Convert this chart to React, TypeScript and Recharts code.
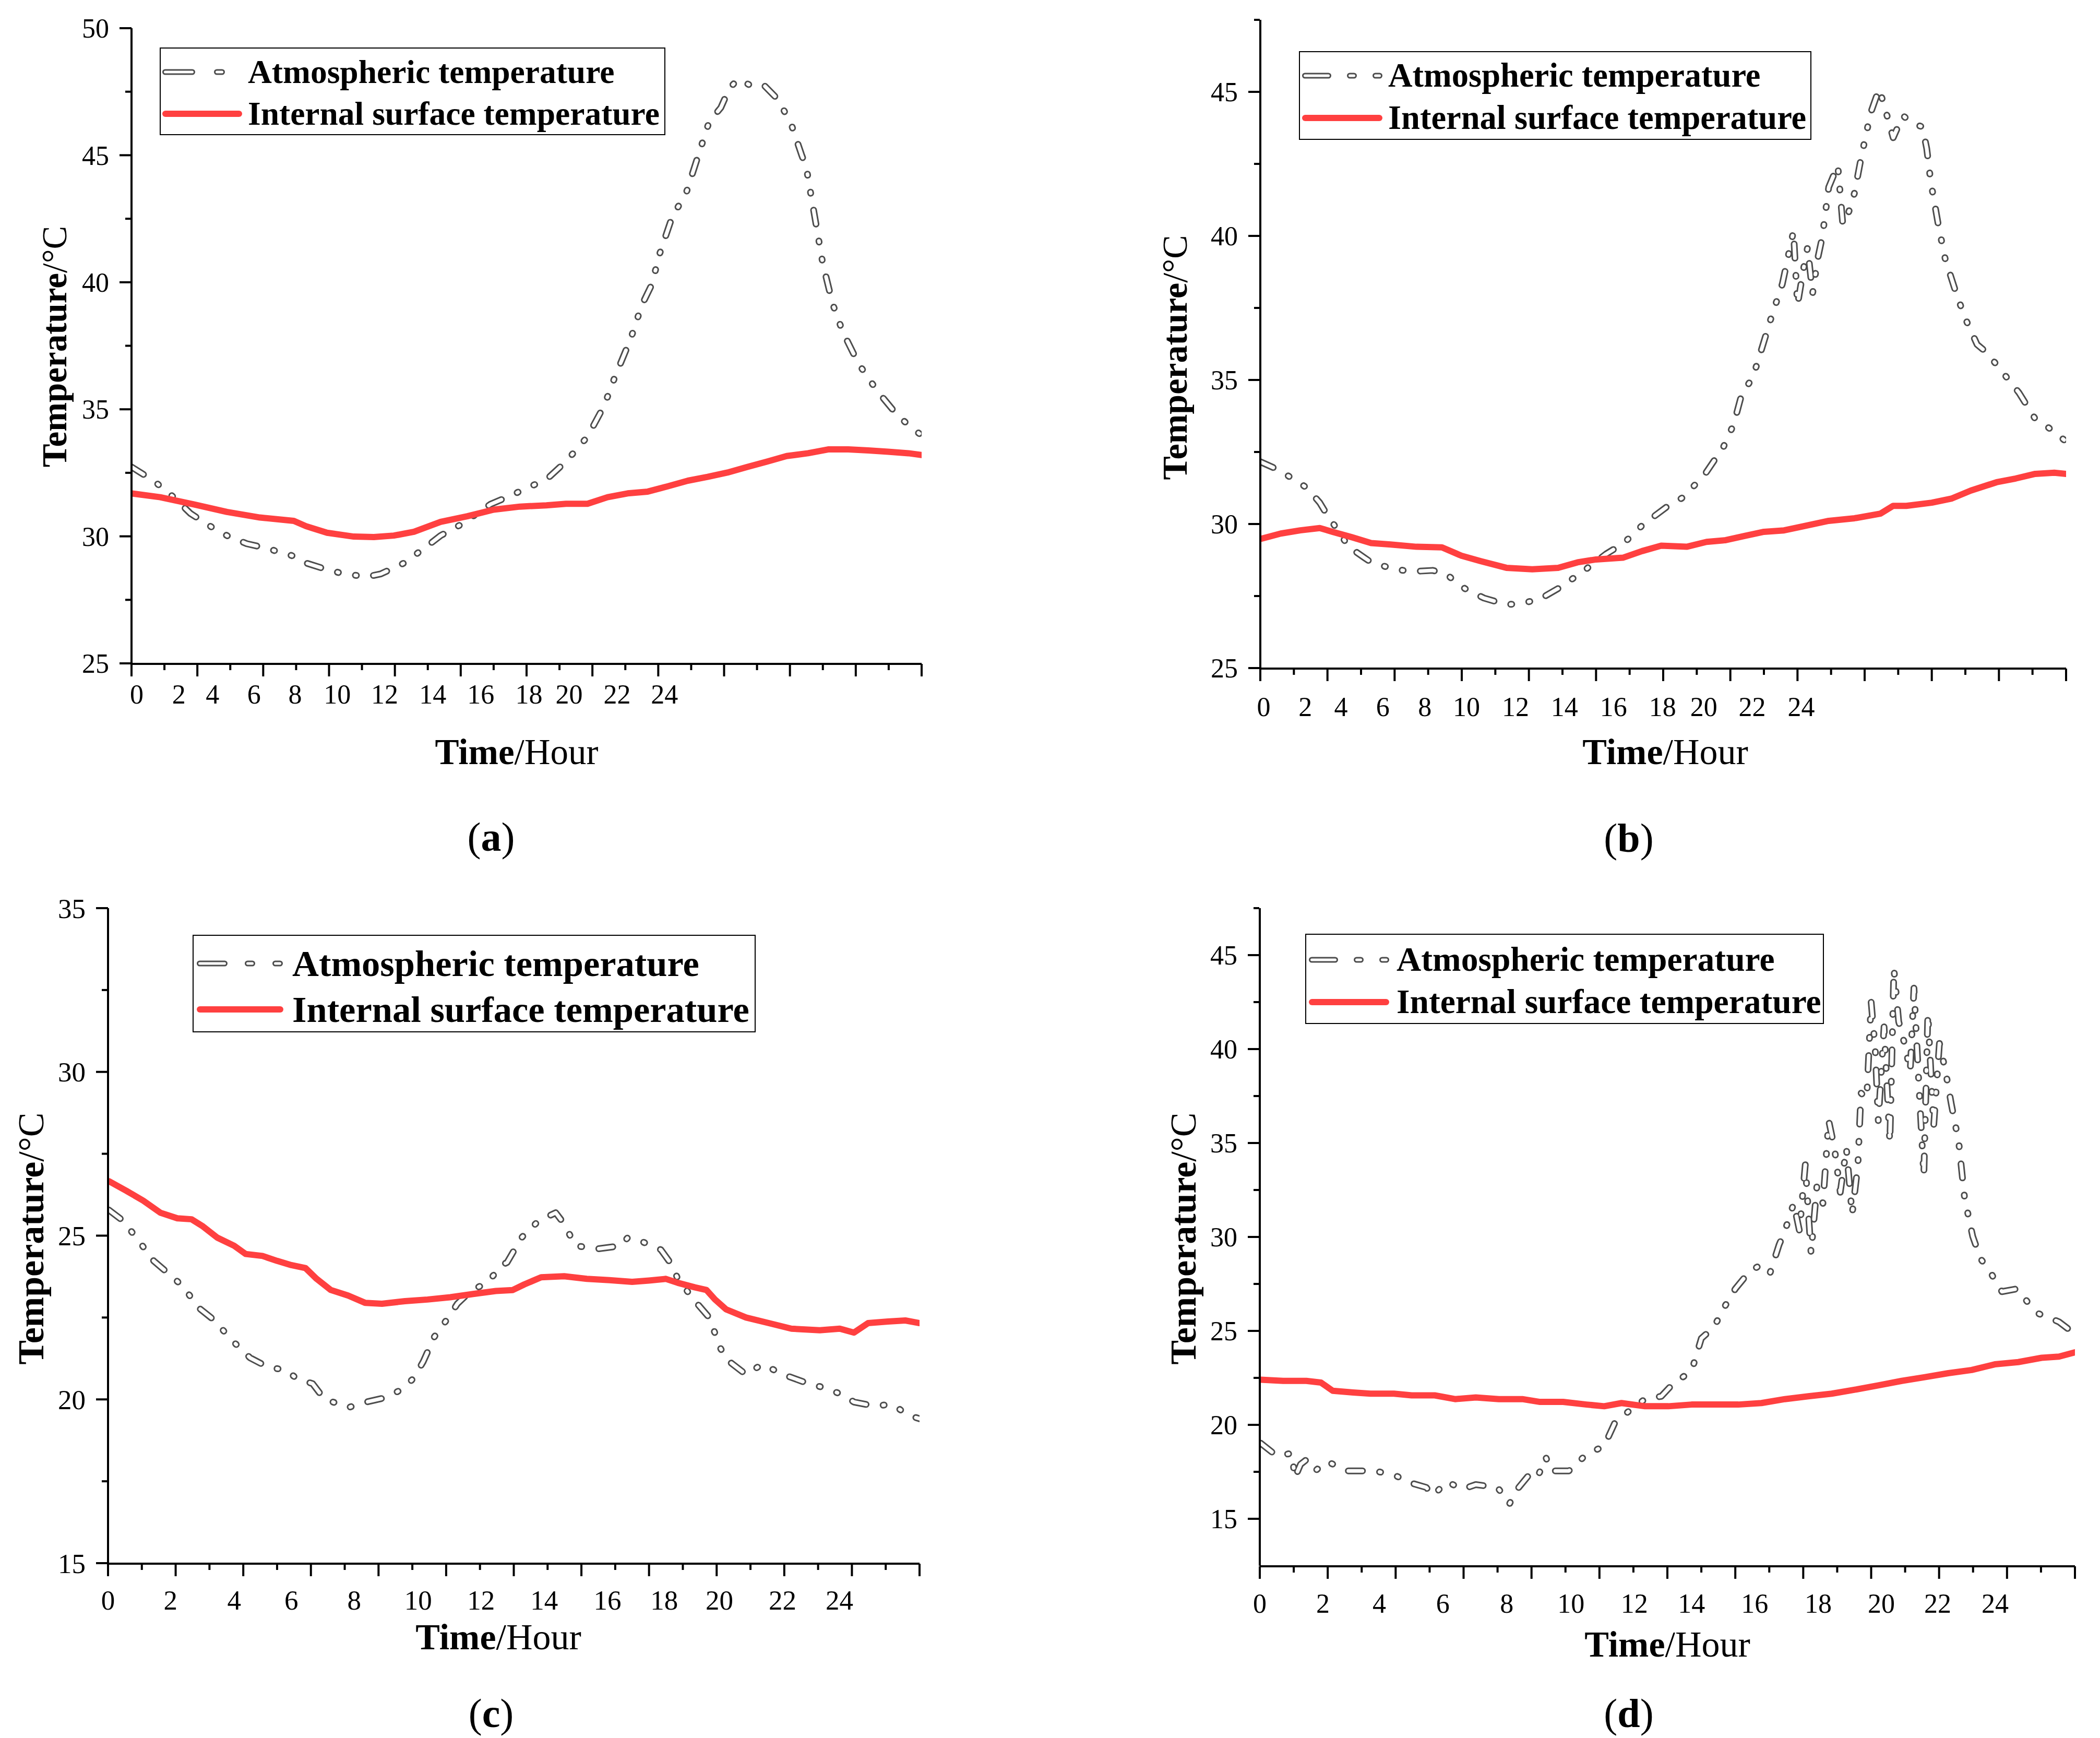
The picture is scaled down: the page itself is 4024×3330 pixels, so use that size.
import React from 'react';
import { LineChart, Line, XAxis, YAxis, Legend } from 'recharts';

const FONT = '"Liberation Serif", "Times New Roman", serif';
const RED = '#FF4040';
const GRAY = '#4d4d4d';

// ---------- (a) ----------
const A_ATM_T = [0, 0.67, 1.28, 1.79, 2.5, 2.9, 3.5, 4.1, 4.9, 5.3, 5.84, 6.45, 7.16, 7.57, 8.28, 8.89, 9.39, 10.0, 10.9, 11.6, 12.0, 12.6, 13.2, 13.85, 14.36, 14.67, 15.17, 15.5, 15.8, 16.05, 16.43, 16.84, 17.2, 17.55, 17.9, 18.16, 18.42, 18.93, 19.23, 19.64, 20.04, 20.35, 20.5, 20.65, 20.8, 21.0, 21.3, 21.6, 22.07, 22.4, 22.8, 23.3, 23.95];
const A_ATM_V = [32.73, 32.19, 31.54, 30.9, 30.31, 30.03, 29.71, 29.53, 29.23, 28.95, 28.73, 28.52, 28.41, 28.52, 28.95, 29.53, 30.03, 30.46, 31.26, 31.65, 31.9, 32.23, 32.95, 33.92, 35.15, 36.23, 37.8, 39.1, 39.9, 41.15, 42.6, 43.48, 44.93, 46.33, 46.87, 47.63, 47.99, 47.67, 47.73, 47.19, 46.22, 45.03, 44.5, 43.35, 42.23, 40.72, 39.14, 38.06, 36.83, 36.18, 35.49, 34.71, 34.02];
const A_INT_T = [0, 0.87, 1.89, 2.9, 3.9, 4.93, 5.3, 5.94, 6.75, 7.36, 7.97, 8.58, 9.39, 10.2, 11.0, 11.8, 12.6, 13.2, 13.85, 14.46, 15.07, 15.68, 16.29, 16.9, 17.5, 18.1, 18.7, 19.3, 19.9, 20.55, 21.16, 21.77, 22.38, 22.98, 23.6, 24];
const A_INT_V = [31.69, 31.54, 31.26, 30.96, 30.74, 30.61, 30.4, 30.14, 29.99, 29.97, 30.03, 30.18, 30.57, 30.79, 31.05, 31.17, 31.22, 31.28, 31.28, 31.54, 31.69, 31.76, 31.97, 32.19, 32.34, 32.51, 32.73, 32.94, 33.16, 33.27, 33.42, 33.42, 33.38, 33.33, 33.27, 33.2];

// ---------- (b) ----------
const B_ATM_T = [0, 0.52, 1.0, 1.38, 1.77, 2.0, 2.34, 2.63, 3.1, 3.3, 3.97, 4.49, 5.13, 5.5, 6.09, 6.66, 7.33, 7.72, 8.29, 8.87, 9.54, 10.3, 10.83, 11.4, 12.1, 12.6, 13.25, 13.8, 14.1, 14.34, 14.67, 14.9, 15.2, 15.55, 15.88, 16.0, 16.17, 16.3, 16.45, 16.6, 16.74, 16.93, 17.2, 17.35, 17.5, 17.7, 17.9, 18.18, 18.43, 18.56, 18.85, 19.14, 19.43, 19.72, 19.85, 19.97, 20.2, 20.4, 20.74, 21.0, 21.35, 21.64, 22.1, 22.6, 23.08, 23.46, 23.94];
const B_ATM_V = [32.16, 31.89, 31.55, 31.26, 30.74, 30.3, 29.73, 29.21, 28.83, 28.67, 28.44, 28.35, 28.39, 28.29, 27.76, 27.43, 27.2, 27.24, 27.37, 27.76, 28.29, 28.96, 29.34, 29.98, 30.59, 30.93, 31.74, 32.69, 33.46, 34.51, 35.09, 35.95, 37.1, 38.34, 40.16, 37.6, 38.8, 39.6, 38.0, 39.2, 39.97, 41.69, 42.45, 40.4, 40.73, 41.5, 42.74, 44.27, 45.1, 44.62, 43.41, 44.18, 43.89, 43.79, 43.03, 41.88, 40.35, 39.2, 37.96, 37.13, 36.23, 35.95, 35.28, 34.55, 33.65, 33.36, 32.92];
const B_INT_T = [0, 0.61, 1.19, 1.77, 2.15, 2.73, 3.3, 3.88, 4.65, 5.41, 5.99, 6.57, 7.33, 8.1, 8.87, 9.45, 10.0, 10.8, 11.37, 11.94, 12.7, 13.29, 13.86, 14.44, 15.0, 15.6, 16.17, 16.93, 17.7, 18.47, 18.85, 19.24, 20.0, 20.58, 21.16, 21.93, 22.5, 23.08, 23.65, 24];
const B_INT_V = [29.48, 29.67, 29.78, 29.86, 29.73, 29.54, 29.34, 29.29, 29.21, 29.19, 28.9, 28.71, 28.48, 28.43, 28.48, 28.67, 28.77, 28.83, 29.06, 29.25, 29.21, 29.38, 29.44, 29.59, 29.73, 29.78, 29.92, 30.11, 30.2, 30.36, 30.63, 30.63, 30.74, 30.88, 31.16, 31.45, 31.58, 31.74, 31.78, 31.74];

// ---------- (c) ----------
const C_ATM_T = [0.03, 0.45, 0.96, 1.35, 1.88, 2.25, 2.64, 3.15, 3.65, 4.2, 4.74, 5.25, 5.58, 6.05, 6.39, 7.1, 7.64, 8.19, 8.7, 9.03, 9.32, 9.65, 10.12, 10.33, 10.76, 11.22, 11.64, 11.8, 12.23, 12.73, 13.24, 13.49, 13.82, 14.5, 15.17, 15.37, 15.79, 16.35, 16.68, 16.85, 17.36, 17.78, 18.11, 18.28, 18.87, 19.34, 20.05, 20.72, 21.17, 21.73, 22.06, 22.65, 23.2, 23.66, 24];
const C_ATM_V = [25.78, 25.45, 24.77, 24.23, 23.76, 23.42, 22.83, 22.41, 21.82, 21.27, 20.98, 20.9, 20.64, 20.48, 20.02, 19.75, 19.92, 20.05, 20.31, 20.64, 21.15, 21.91, 22.58, 22.92, 23.34, 23.56, 24.1, 24.18, 24.94, 25.45, 25.7, 25.36, 24.69, 24.6, 24.69, 24.94, 24.82, 24.57, 24.1, 23.68, 23.0, 22.5, 21.57, 21.23, 20.76, 21.07, 20.73, 20.48, 20.36, 20.14, 19.92, 19.8, 19.85, 19.52, 19.41];
const C_INT_T = [0.03, 0.54, 1.04, 1.55, 2.05, 2.47, 2.81, 3.23, 3.73, 4.07, 4.57, 5.0, 5.42, 5.84, 6.17, 6.59, 7.1, 7.6, 8.1, 8.78, 9.45, 10.12, 10.8, 11.47, 11.97, 12.31, 12.81, 13.49, 14.16, 14.83, 15.5, 16.0, 16.5, 16.85, 17.36, 17.7, 17.95, 18.28, 18.87, 19.54, 20.21, 21.05, 21.64, 22.06, 22.48, 23.07, 23.58, 24];
const C_INT_V = [26.66, 26.37, 26.07, 25.7, 25.53, 25.5, 25.28, 24.94, 24.69, 24.44, 24.38, 24.23, 24.1, 24.01, 23.68, 23.34, 23.17, 22.95, 22.92, 23.0, 23.05, 23.12, 23.22, 23.31, 23.34, 23.51, 23.73, 23.76, 23.68, 23.64, 23.59, 23.63, 23.68, 23.56, 23.42, 23.34, 23.05, 22.75, 22.5, 22.33, 22.16, 22.11, 22.16, 22.04, 22.33, 22.38, 22.41, 22.33];

// ---------- (d) ----------
const D_ATM_T = [0.03, 0.5, 0.95, 1.03, 1.2, 1.37, 1.63, 1.98, 2.58, 3.35, 3.6, 4.04, 4.5, 4.9, 5.1, 5.5, 5.98, 6.36, 6.73, 7.0, 7.35, 7.56, 7.99, 8.19, 8.42, 8.56, 9.1, 9.62, 10.14, 10.45, 10.9, 11.34, 11.82, 12.2, 12.71, 13.0, 13.37, 13.66, 14.0, 14.4, 14.78, 15.03, 15.29, 15.46, 15.72, 15.89, 16.06, 16.23, 16.4, 16.58, 16.75, 16.92, 17.09, 17.27, 17.44, 17.61, 17.7, 17.87, 18.0, 18.12, 18.21, 18.38, 18.55, 18.67, 18.81, 18.98, 19.15, 19.26, 19.41, 19.55, 19.67, 19.84, 20.01, 20.19, 20.36, 20.58, 20.75, 20.99, 21.22, 21.56, 21.85, 22.3, 22.68, 22.93, 23.53, 23.96];
const D_ATM_V = [19.02, 18.35, 18.49, 17.17, 17.9, 18.14, 17.55, 18.05, 17.55, 17.55, 17.47, 17.26, 16.88, 16.67, 16.23, 16.97, 16.58, 16.82, 16.73, 16.67, 15.79, 16.53, 17.47, 17.26, 18.29, 17.55, 17.55, 18.43, 18.87, 20.1, 20.78, 21.37, 21.52, 22.25, 22.84, 24.6, 25.19, 26.21, 27.24, 28.12, 28.56, 28.12, 29.59, 30.32, 31.79, 30.32, 33.84, 29.15, 32.67, 31.79, 36.19, 34.72, 32.38, 34.72, 31.2, 33.84, 37.66, 37.37, 42.5, 40.0, 36.19, 41.18, 35.02, 44.26, 41.47, 40.3, 38.83, 43.24, 37.95, 33.26, 41.9, 35.9, 40.3, 38.83, 37.07, 35.02, 32.08, 30.03, 28.85, 27.97, 27.09, 27.24, 26.36, 25.92, 25.48, 24.89];
const D_INT_T = [0.03, 0.69, 1.37, 1.8, 2.15, 2.75, 3.26, 3.95, 4.47, 5.15, 5.75, 6.36, 7.04, 7.73, 8.25, 8.93, 9.62, 10.14, 10.65, 11.34, 12.03, 12.71, 13.4, 14.09, 14.77, 15.46, 16.15, 16.84, 17.52, 18.21, 18.9, 19.58, 20.27, 20.96, 21.64, 22.33, 23.02, 23.53, 24];
const D_INT_V = [22.4, 22.34, 22.34, 22.25, 21.81, 21.72, 21.66, 21.66, 21.57, 21.57, 21.37, 21.46, 21.37, 21.37, 21.22, 21.22, 21.08, 20.99, 21.16, 20.99, 20.99, 21.08, 21.08, 21.08, 21.16, 21.37, 21.52, 21.66, 21.87, 22.1, 22.34, 22.54, 22.75, 22.92, 23.22, 23.34, 23.57, 23.63, 23.86];

// ---------- axes ----------
const X_MAJOR = [0, 2, 4, 6, 8, 10, 12, 14, 16, 18, 20, 22, 24];
const X_MINOR = [1, 3, 5, 7, 9, 11, 13, 15, 17, 19, 21, 23];
const X_LABELS = ['0', '2', '4', '6', '8', '10', '12', '14', '16', '18', '20', '22', '24'];
// where each hour label sits along the time axis in each panel (the labels are not aligned to the ticks)
const A_LABEL_AT = [0.16, 1.44, 2.46, 3.72, 4.97, 6.25, 7.69, 9.15, 10.61, 12.07, 13.29, 14.75, 16.19];
const B_LABEL_AT = [0.1, 1.34, 2.4, 3.65, 4.9, 6.14, 7.6, 9.06, 10.52, 11.98, 13.21, 14.65, 16.11];
const C_LABEL_AT = [0, 1.85, 3.73, 5.42, 7.28, 9.17, 11.03, 12.9, 14.77, 16.45, 18.08, 19.95, 21.63];
const D_LABEL_AT = [0, 1.86, 3.52, 5.39, 7.27, 9.16, 11.03, 12.71, 14.57, 16.44, 18.3, 19.96, 21.65];

const A_Y_MAJOR = [25, 30, 35, 40, 45, 50];
const A_Y_MINOR = [27.5, 32.5, 37.5, 42.5, 47.5];
const B_Y_MAJOR = [25, 30, 35, 40, 45];
const B_Y_MINOR = [27.5, 32.5, 37.5, 42.5, 47.5];
const C_Y_MAJOR = [15, 20, 25, 30, 35];
const C_Y_MINOR = [17.5, 22.5, 27.5, 32.5];
const D_Y_MAJOR = [15, 20, 25, 30, 35, 40, 45];
const D_Y_MINOR = [17.5, 22.5, 27.5, 32.5, 37.5, 42.5, 47.5];

const LEG_ATM = 'Atmospheric temperature';
const LEG_INT = 'Internal surface temperature';

const zip = (t: number[], v: number[]) => t.map((x, i) => ({ t: x, v: v[i] }));

const PW = 2012;
const PH = 1665;
const MAJOR_LEN = 24;
const MINOR_LEN = 11;
const TICK_W = 4;

type Cfg = {
  ox: number; oy: number;
  margin: { top: number; right: number; bottom: number; left: number };
  yDomain: [number, number]; yMajor: number[]; yMinor: number[];
  labelAt: number[]; xTickMargin: number; tickFs: number;
  atmT: number[]; atmV: number[]; intT: number[]; intV: number[];
  leg: { left: number; top: number; w: number; h: number; r1: number; r2: number; s0: number; s1: number; tx: number; fs: number; dash: string; dw: number };
  yTitle: { x: number; y: number; fs: number };
  xTitle: { x: number; y: number; fs: number };
  cap: { x: number; y: number; label: string };
};

const PANELS: Cfg[] = [
  {
    ox: 0, oy: 0,
    margin: { top: 54, right: 246, bottom: 391, left: 250 },
    yDomain: [25, 50], yMajor: A_Y_MAJOR, yMinor: A_Y_MINOR,
    labelAt: A_LABEL_AT, xTickMargin: 40, tickFs: 52,
    atmT: A_ATM_T, atmV: A_ATM_V, intT: A_INT_T, intV: A_INT_V,
    leg: { left: 306, top: 91, w: 969, h: 168, r1: 45, r2: 125, s0: 3, s1: 156, tx: 167, fs: 63.5, dash: '52 47 10 47 10 47', dw: 11 },
    yTitle: { x: 104, y: 664, fs: 67 },
    xTitle: { x: 990, y: 1441, fs: 69 },
    cap: { x: 941, y: 1604, label: 'a' },
  },
  {
    ox: 2012, oy: 0,
    margin: { top: 38, right: 65, bottom: 382, left: 401 },
    yDomain: [25, 47.5], yMajor: B_Y_MAJOR, yMinor: B_Y_MINOR,
    labelAt: B_LABEL_AT, xTickMargin: 55, tickFs: 52,
    atmT: B_ATM_T, atmV: B_ATM_V, intT: B_INT_T, intV: B_INT_V,
    leg: { left: 477, top: 98, w: 982, h: 170, r1: 45, r2: 126, s0: 4, s1: 158, tx: 169, fs: 64.5, dash: '45 41 8 41 8 41', dw: 11 },
    yTitle: { x: 2251, y: 685, fs: 68 },
    xTitle: { x: 3191, y: 1441, fs: 70 },
    cap: { x: 3121, y: 1606, label: 'b' },
  },
  {
    ox: 0, oy: 1665,
    margin: { top: 75, right: 250, bottom: 332, left: 205 },
    yDomain: [15, 35], yMajor: C_Y_MAJOR, yMinor: C_Y_MINOR,
    labelAt: C_LABEL_AT, xTickMargin: 51, tickFs: 53,
    atmT: C_ATM_T, atmV: C_ATM_V, intT: C_INT_T, intV: C_INT_V,
    leg: { left: 369, top: 126, w: 1079, h: 187, r1: 53, r2: 141, s0: 6, s1: 172, tx: 189, fs: 70.5, dash: '48 44 9 44 9 44', dw: 11 },
    yTitle: { x: 60, y: 2373, fs: 70 },
    xTitle: { x: 955, y: 3137, fs: 70 },
    cap: { x: 941, y: 3283, label: 'c' },
  },
  {
    ox: 2012, oy: 1665,
    margin: { top: 75, right: 48, bottom: 327, left: 400 },
    yDomain: [12.5, 47.5], yMajor: D_Y_MAJOR, yMinor: D_Y_MINOR,
    labelAt: D_LABEL_AT, xTickMargin: 53, tickFs: 52,
    atmT: D_ATM_T, atmV: D_ATM_V, intT: D_INT_T, intV: D_INT_V,
    leg: { left: 489, top: 124, w: 994, h: 173, r1: 48, r2: 129, s0: 5, s1: 159, tx: 173, fs: 65.5, dash: '45 41 8 41 8 41', dw: 11 },
    yTitle: { x: 2268, y: 2373, fs: 70 },
    xTitle: { x: 3195, y: 3151, fs: 70 },
    cap: { x: 3121, y: 3283, label: 'd' },
  },
];

function LegendBox({ c }: { c: Cfg['leg'] }) {
  const textStyle: React.CSSProperties = {
    position: 'absolute', left: c.tx, fontFamily: FONT, fontWeight: 'bold', fontSize: c.fs,
    lineHeight: 1, whiteSpace: 'nowrap', transform: 'translateY(-50%)', color: '#000',
  };
  return (
    <div style={{ position: 'relative', width: c.w, height: c.h, border: '2px solid #000', boxSizing: 'border-box', background: '#fff' }}>
      <svg style={{ position: 'absolute', left: 0, top: 0, overflow: 'visible' }} width={c.w} height={c.h}>
        <line x1={c.s0 + c.dw / 2} x2={c.s1} y1={c.r1} y2={c.r1} stroke={GRAY} strokeWidth={c.dw} strokeDasharray={c.dash} strokeLinecap="round" />
        <line x1={c.s0 + c.dw / 2} x2={c.s1} y1={c.r1} y2={c.r1} stroke="#fff" strokeWidth={c.dw - 6} strokeDasharray={c.dash} strokeLinecap="round" />
        <line x1={c.s0 + 6} x2={c.s1 - 6} y1={c.r2} y2={c.r2} stroke={RED} strokeWidth={12} strokeLinecap="round" />
      </svg>
      <div style={{ ...textStyle, top: c.r1 }}>{LEG_ATM}</div>
      <div style={{ ...textStyle, top: c.r2 }}>{LEG_INT}</div>
    </div>
  );
}

const AXIS_LINE = { stroke: '#000', strokeWidth: TICK_W };

// tick marks drawn at the library's tick coordinate (tickSize/tickMargin = 0 so x/y sit on the axis line)
function XTickMark(props: any) {
  const { x, y, len } = props;
  return <line x1={x} x2={x} y1={y} y2={y + len} stroke="#000" strokeWidth={TICK_W} />;
}
function YTickMark(props: any) {
  const { x, y, len, fs, payload, showLabel } = props;
  return (
    <g>
      <line x1={x - len} x2={x} y1={y} y2={y} stroke="#000" strokeWidth={TICK_W} />
      {showLabel ? (
        <text x={x - len - 20} y={y} dy="0.35em" textAnchor="end" fontSize={fs} fontFamily={FONT} fill="#000">
          {payload.value}
        </text>
      ) : null}
    </g>
  );
}

function Panel({ cfg }: { cfg: Cfg }) {
  const atm = zip(cfg.atmT, cfg.atmV);
  const int = zip(cfg.intT, cfg.intV);
  const tickStyle = { fontSize: cfg.tickFs, fontFamily: FONT, fill: '#000' };
  return (
    <div style={{ position: 'absolute', left: cfg.ox, top: cfg.oy, width: PW, height: PH }}>
      <LineChart width={PW} height={PH} margin={cfg.margin}>
        <XAxis xAxisId="main" type="number" dataKey="t" domain={[0, 24]} ticks={X_MAJOR} interval={0}
          tick={(p: any) => <XTickMark {...p} len={MAJOR_LEN} />} tickSize={0} tickMargin={0} height={1}
          axisLine={AXIS_LINE} tickLine={false} allowDataOverflow />
        <XAxis xAxisId="minor" type="number" dataKey="t" domain={[0, 24]} ticks={X_MINOR} interval={0}
          tick={(p: any) => <XTickMark {...p} len={MINOR_LEN} />} tickSize={0} tickMargin={0} height={1}
          axisLine={false} tickLine={false} allowDataOverflow />
        <XAxis xAxisId="lab" type="number" dataKey="t" domain={[0, 24]} ticks={cfg.labelAt} interval={0}
          tickFormatter={(_v: number, i: number) => X_LABELS[i]}
          tick={tickStyle} tickSize={0} tickMargin={cfg.xTickMargin} height={1} axisLine={false} tickLine={false} allowDataOverflow />
        <YAxis yAxisId="main" type="number" domain={cfg.yDomain} ticks={cfg.yMajor} interval={0}
          tick={(p: any) => <YTickMark {...p} len={MAJOR_LEN - 1} fs={cfg.tickFs} showLabel />} tickSize={0} tickMargin={0} width={1}
          axisLine={AXIS_LINE} tickLine={false} allowDataOverflow />
        <YAxis yAxisId="minor" type="number" domain={cfg.yDomain} ticks={cfg.yMinor} interval={0}
          tick={(p: any) => <YTickMark {...p} len={MINOR_LEN} />} tickSize={0} tickMargin={0} width={1}
          axisLine={false} tickLine={false} allowDataOverflow />
        <Line xAxisId="main" yAxisId="main" data={atm} dataKey="v" type="linear" stroke={GRAY} strokeWidth={13}
          strokeDasharray="27 33 2 33 2 33" strokeLinecap="round" strokeLinejoin="round" dot={false} activeDot={false}
          isAnimationActive={false} legendType="none" />
        <Line xAxisId="main" yAxisId="main" data={atm} dataKey="v" type="linear" stroke="#fff" strokeWidth={7}
          strokeDasharray="27 33 2 33 2 33" strokeLinecap="round" strokeLinejoin="round" dot={false} activeDot={false}
          isAnimationActive={false} legendType="none" />
        <Line xAxisId="main" yAxisId="main" data={int} dataKey="v" type="linear" stroke={RED} strokeWidth={12}
          strokeLinejoin="round" strokeLinecap="round" dot={false} activeDot={false} isAnimationActive={false} legendType="none" />
        <Legend layout="vertical" align="center" verticalAlign="middle"
          wrapperStyle={{ left: cfg.leg.left, top: cfg.leg.top, width: cfg.leg.w, height: cfg.leg.h }}
          content={() => <LegendBox c={cfg.leg} />} />
      </LineChart>
    </div>
  );
}

function CenterText({ x, y, fs, rot, children }: { x: number; y: number; fs: number; rot?: boolean; children: React.ReactNode }) {
  return (
    <div style={{
      position: 'absolute', left: x, top: y, transform: `translate(-50%, -50%)${rot ? ' rotate(-90deg)' : ''}`,
      fontFamily: FONT, fontSize: fs, lineHeight: 1, whiteSpace: 'nowrap', color: '#000',
    }}>{children}</div>
  );
}

export default function App() {
  return (
    <div style={{ position: 'absolute', left: 0, top: 0, width: 4024, height: 3330, background: '#fff', overflow: 'hidden' }}>
      {PANELS.map((p, i) => (
        <React.Fragment key={i}>
          <Panel cfg={p} />
          <CenterText x={p.yTitle.x} y={p.yTitle.y} fs={p.yTitle.fs} rot>
            <b>Temperature</b>/°C
          </CenterText>
          <CenterText x={p.xTitle.x} y={p.xTitle.y} fs={p.xTitle.fs}>
            <b>Time</b>/Hour
          </CenterText>
          <CenterText x={p.cap.x} y={p.cap.y} fs={78}>
            (<b>{p.cap.label}</b>)
          </CenterText>
        </React.Fragment>
      ))}
    </div>
  );
}
